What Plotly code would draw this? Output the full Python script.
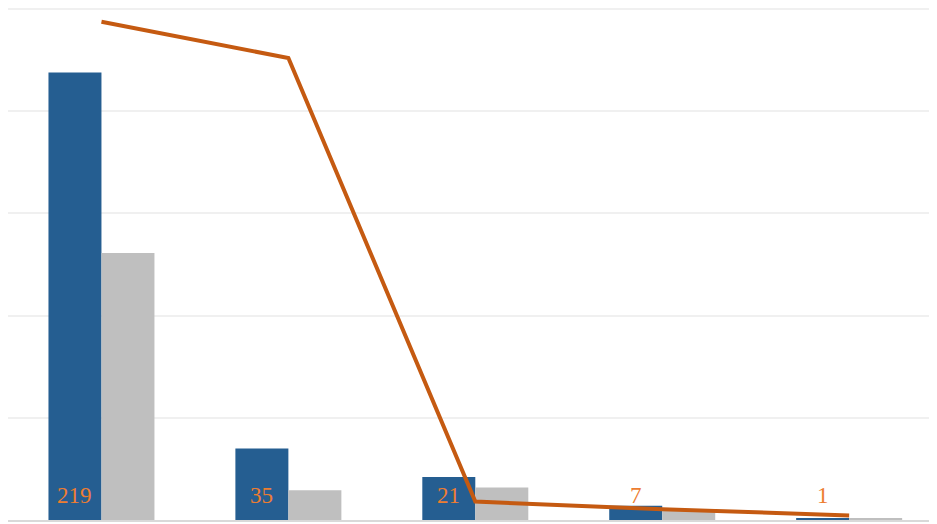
import plotly.graph_objects as go

categories = ["C1", "C2", "C3", "C4", "C5"]
series_blue = [219, 35, 21, 7, 1]
series_gray = [130.6, 14.6, 15.9, 4.4, 1.0]
series_line = [97.5, 90.4, 3.6, 2.1, 0.9]
label_texts = ["219", "35", "21", "7", "1"]

fig = go.Figure()
fig.add_trace(go.Bar(x=categories, y=series_blue, marker=dict(color="#255E91", line=dict(width=0)),
                     name="Series 1", hoverinfo="skip"))
fig.add_trace(go.Bar(x=categories, y=series_gray, marker=dict(color="#BFBFBF", line=dict(width=0)),
                     name="Series 2", hoverinfo="skip"))
fig.add_trace(go.Scatter(x=categories, y=series_line, mode="lines", yaxis="y2",
                         line=dict(color="#C55A11", width=4), name="Series 3", hoverinfo="skip"))

annotations = []
for c, t in zip(categories, label_texts):
    annotations.append(dict(x=c, y=0, xref="x", yref="y", text=t, showarrow=False,
                            xshift=-26.5, yshift=25, yanchor="middle", xanchor="center",
                            font=dict(family="Liberation Serif", size=23, color="#ED7D31")))

fig.update_layout(
    width=937, height=524,
    margin=dict(l=0, r=8, t=0, b=12, pad=0),
    paper_bgcolor="white", plot_bgcolor="white",
    barmode="group", bargap=0.433, bargroupgap=0,
    showlegend=False,
    annotations=annotations,
    xaxis=dict(range=[-0.5, 4.47], showticklabels=False, showgrid=False, zeroline=False,
               showline=True, linecolor="#D9D9D9", linewidth=2, ticks=""),
    yaxis=dict(range=[0, 250.5], dtick=50, showticklabels=False, showgrid=True,
               gridcolor="#F0F0F0", gridwidth=2, zeroline=False, ticks=""),
    yaxis2=dict(range=[0, 100.2], overlaying="y", side="right", showticklabels=False,
                showgrid=False, zeroline=False, ticks=""),
)

fig.write_html("out.html")
